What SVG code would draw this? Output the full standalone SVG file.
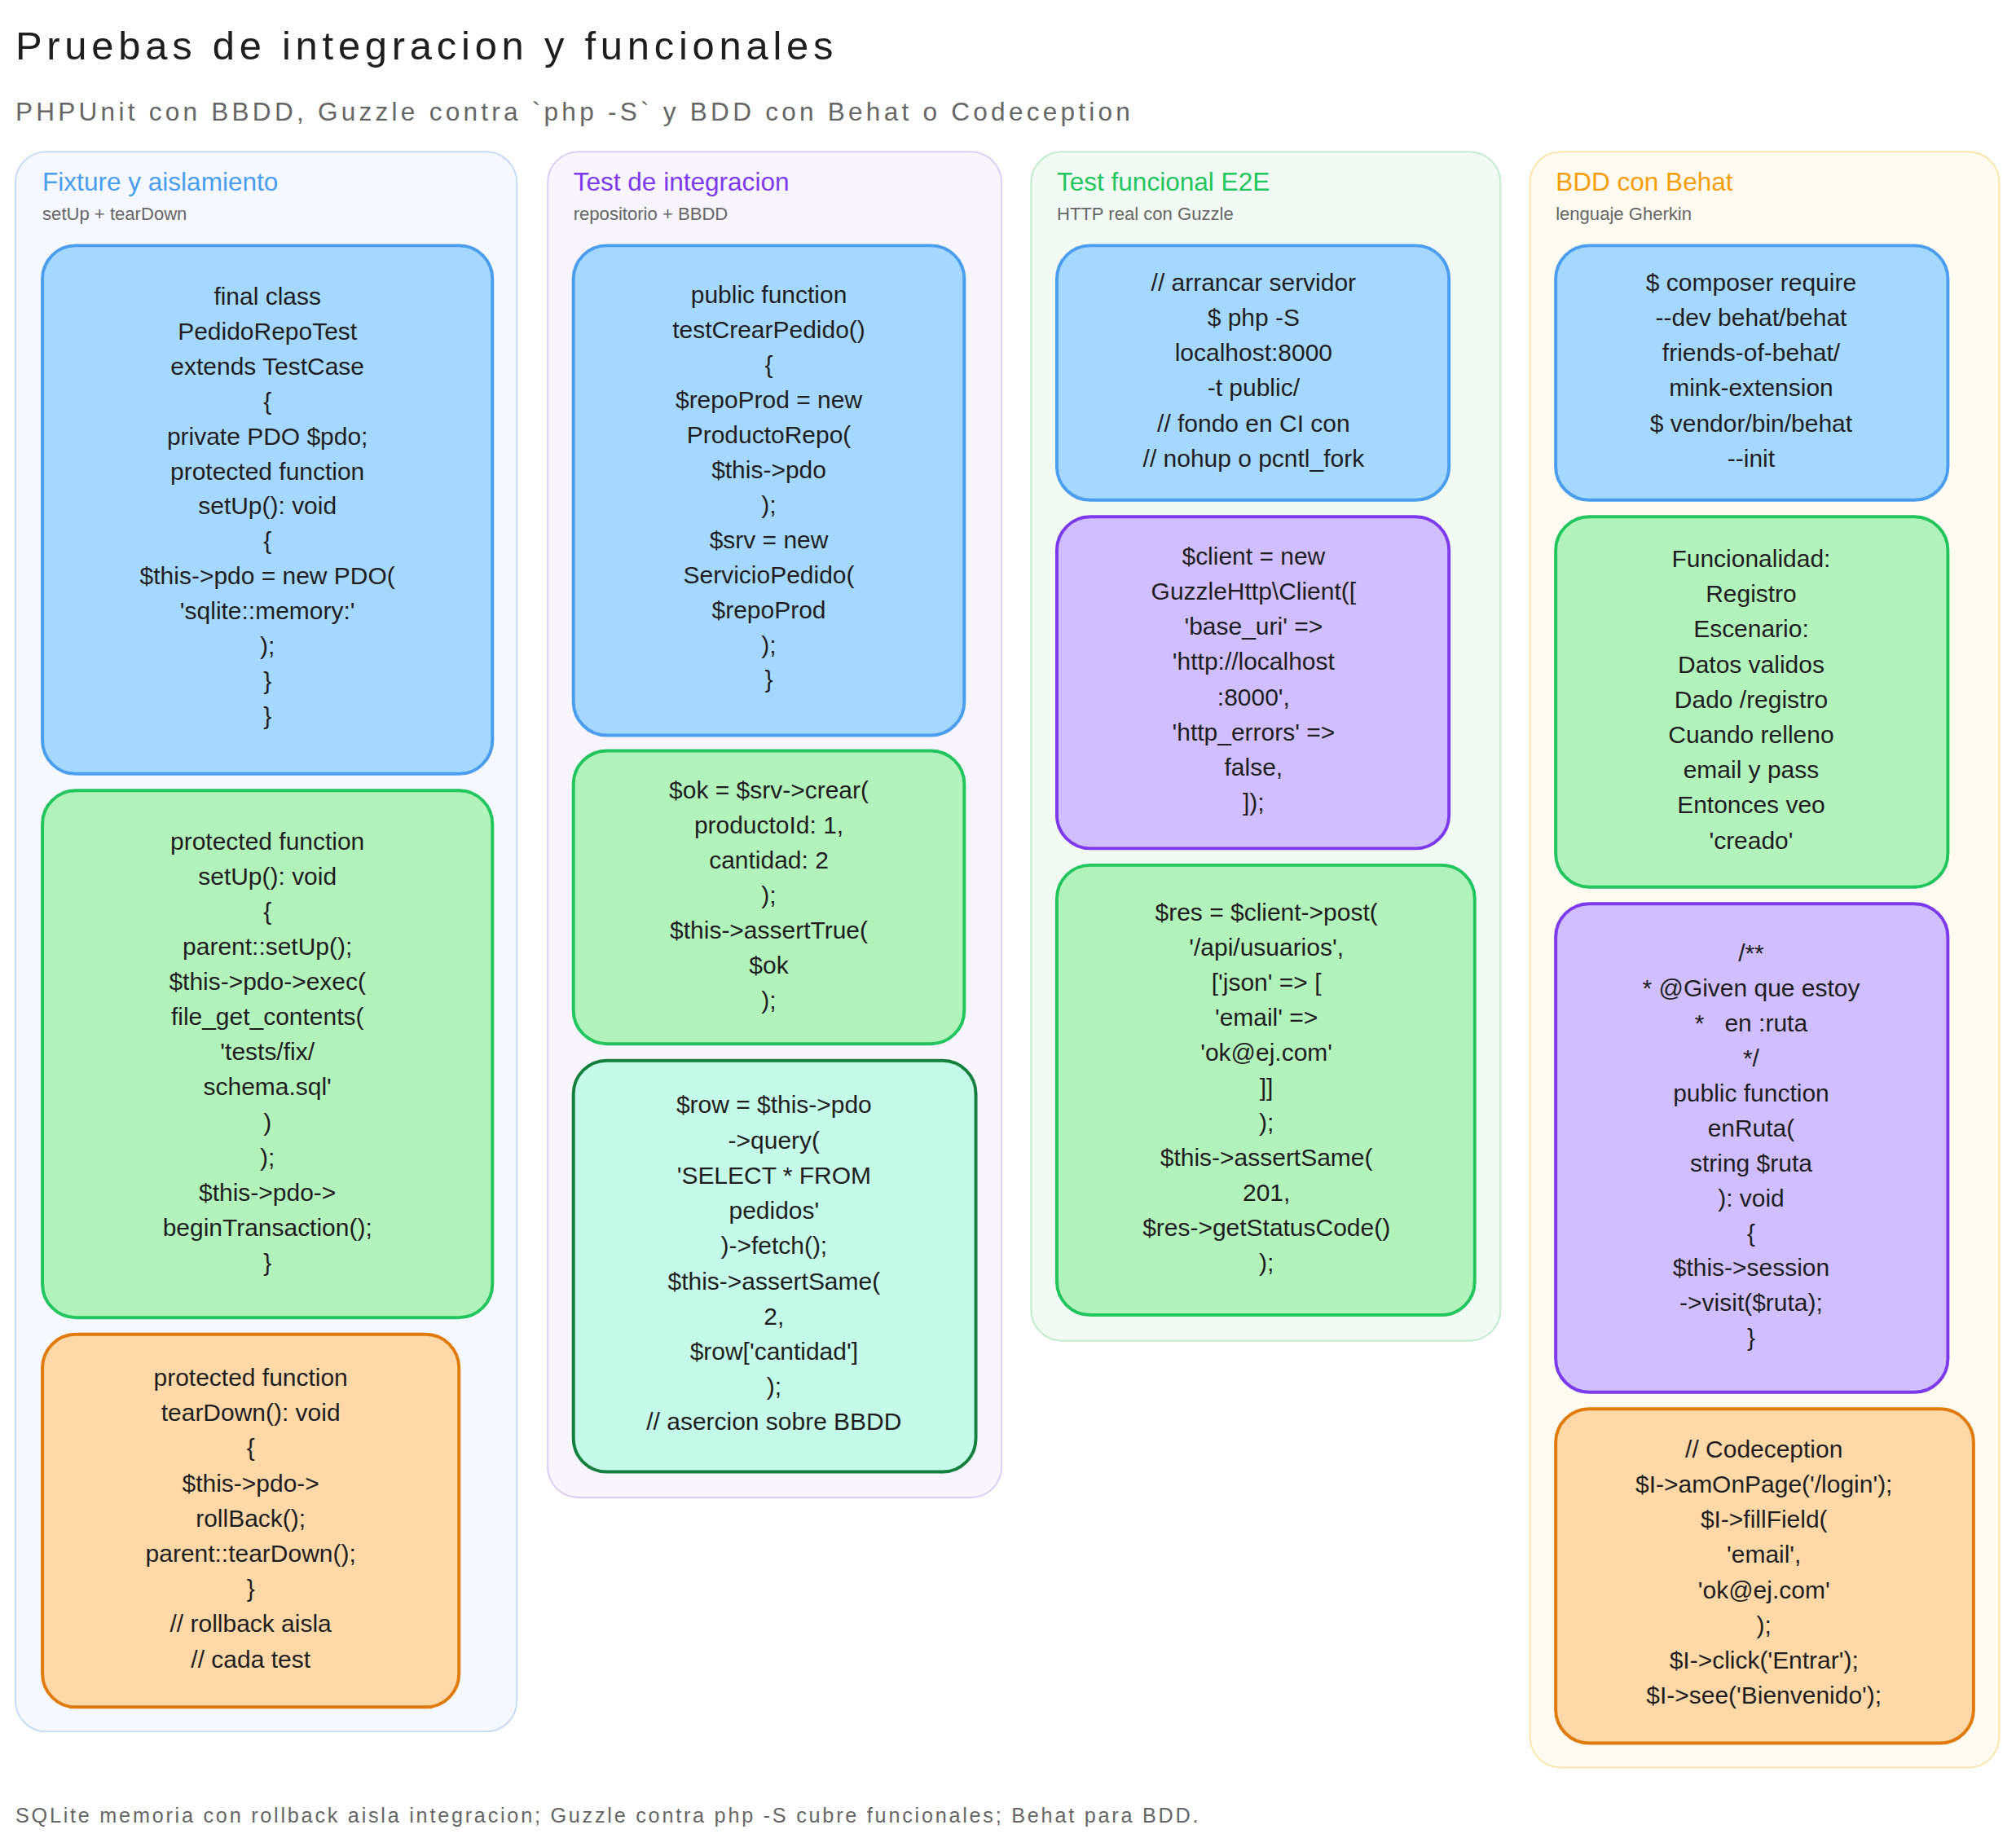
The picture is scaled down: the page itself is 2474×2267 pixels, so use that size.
<svg xmlns="http://www.w3.org/2000/svg" width="2474" height="2267" viewBox="0 0 2474 2267">
<style>
text{font-family:"Liberation Sans","DejaVu Sans",sans-serif;}
.t{font-size:19px;fill:#1e1e1e;text-anchor:middle;white-space:pre;}
.ct{font-size:20px;}
.cs{font-size:14px;fill:#666;}
.b{stroke-width:2.5;}
.blue{fill:#a5d8ff;stroke:#4a9eed;}
.green{fill:#b2f2bb;stroke:#22c55e;}
.orange{fill:#ffd8a8;stroke:#e07b0b;}
.purple{fill:#d0bfff;stroke:#7c3aed;}
.teal{fill:#c3fae8;stroke:#15803d;}
</style>
<rect width="2474" height="2267" fill="#ffffff"/>
<g transform="scale(1.5778)">
<g id="header">
<text x="12" y="46" textLength="636" lengthAdjust="spacing" style="font-size:31px;fill:#1e1e1e">Pruebas de integracion y funcionales</text>
<text x="12" y="94" textLength="867" lengthAdjust="spacing" style="font-size:20px;fill:#666">PHPUnit con BBDD, Guzzle contra `php -S` y BDD con Behat o Codeception</text>
</g>
<g id="col1">
<rect x="12" y="118" width="390" height="1229" rx="24" fill="#f5f8ff" stroke="#c9dcf5" stroke-width="1.3"/>
<text x="33" y="148" class="ct" fill="#4a9eed">Fixture y aislamiento</text>
<text x="33" y="171" class="cs">setUp + tearDown</text>
</g>
<g id="col2">
<rect x="426" y="118" width="353" height="1047" rx="24" fill="#f8f5ff" stroke="#ddd0f7" stroke-width="1.3"/>
<text x="446" y="148" class="ct" fill="#7c3aed">Test de integracion</text>
<text x="446" y="171" class="cs">repositorio + BBDD</text>
</g>
<g id="col3">
<rect x="802" y="118" width="365" height="925" rx="24" fill="#f1fbf3" stroke="#c5ebd0" stroke-width="1.3"/>
<text x="822" y="148" class="ct" fill="#22c55e">Test funcional E2E</text>
<text x="822" y="171" class="cs">HTTP real con Guzzle</text>
</g>
<g id="col4">
<rect x="1190" y="118" width="365" height="1257" rx="24" fill="#fffbf0" stroke="#fbe6b0" stroke-width="1.3"/>
<text x="1210" y="148" class="ct" fill="#f59e0b">BDD con Behat</text>
<text x="1210" y="171" class="cs">lenguaje Gherkin</text>
</g>

<g id="c1b1"><rect x="33" y="191" width="350" height="411" rx="26" class="b blue"/>
<text class="t" y="237"><tspan x="208">final class</tspan><tspan x="208" dy="27.2">PedidoRepoTest</tspan><tspan x="208" dy="27.2">extends TestCase</tspan><tspan x="208" dy="27.2">{</tspan><tspan x="208" dy="27.2">private PDO $pdo;</tspan><tspan x="208" dy="27.2">protected function</tspan><tspan x="208" dy="27.2">setUp(): void</tspan><tspan x="208" dy="27.2">{</tspan><tspan x="208" dy="27.2">$this-&gt;pdo = new PDO(</tspan><tspan x="208" dy="27.2">'sqlite::memory:'</tspan><tspan x="208" dy="27.2">);</tspan><tspan x="208" dy="27.2">}</tspan><tspan x="208" dy="27.2">}</tspan></text></g>
<g id="c1b2"><rect x="33" y="615" width="350" height="410" rx="26" class="b green"/>
<text class="t" y="661"><tspan x="208">protected function</tspan><tspan x="208" dy="27.3">setUp(): void</tspan><tspan x="208" dy="27.3">{</tspan><tspan x="208" dy="27.3">parent::setUp();</tspan><tspan x="208" dy="27.3">$this-&gt;pdo-&gt;exec(</tspan><tspan x="208" dy="27.3">file_get_contents(</tspan><tspan x="208" dy="27.3">'tests/fix/</tspan><tspan x="208" dy="27.3">schema.sql'</tspan><tspan x="208" dy="27.3">)</tspan><tspan x="208" dy="27.3">);</tspan><tspan x="208" dy="27.3">$this-&gt;pdo-&gt;</tspan><tspan x="208" dy="27.3">beginTransaction();</tspan><tspan x="208" dy="27.3">}</tspan></text></g>
<g id="c1b3"><rect x="33" y="1038" width="324" height="290" rx="26" class="b orange"/>
<text class="t" y="1078"><tspan x="195">protected function</tspan><tspan x="195" dy="27.4">tearDown(): void</tspan><tspan x="195" dy="27.4">{</tspan><tspan x="195" dy="27.4">$this-&gt;pdo-&gt;</tspan><tspan x="195" dy="27.4">rollBack();</tspan><tspan x="195" dy="27.4">parent::tearDown();</tspan><tspan x="195" dy="27.4">}</tspan><tspan x="195" dy="27.4">// rollback aisla</tspan><tspan x="195" dy="27.4">// cada test</tspan></text></g>

<g id="c2b1"><rect x="446" y="191" width="304" height="381" rx="26" class="b blue"/>
<text class="t" y="236"><tspan x="598">public function</tspan><tspan x="598" dy="27.2">testCrearPedido()</tspan><tspan x="598" dy="27.2">{</tspan><tspan x="598" dy="27.2">$repoProd = new</tspan><tspan x="598" dy="27.2">ProductoRepo(</tspan><tspan x="598" dy="27.2">$this-&gt;pdo</tspan><tspan x="598" dy="27.2">);</tspan><tspan x="598" dy="27.2">$srv = new</tspan><tspan x="598" dy="27.2">ServicioPedido(</tspan><tspan x="598" dy="27.2">$repoProd</tspan><tspan x="598" dy="27.2">);</tspan><tspan x="598" dy="27.2">}</tspan></text></g>
<g id="c2b2"><rect x="446" y="584" width="304" height="228" rx="26" class="b green"/>
<text class="t" y="621"><tspan x="598">$ok = $srv-&gt;crear(</tspan><tspan x="598" dy="27.3">productoId: 1,</tspan><tspan x="598" dy="27.3">cantidad: 2</tspan><tspan x="598" dy="27.3">);</tspan><tspan x="598" dy="27.3">$this-&gt;assertTrue(</tspan><tspan x="598" dy="27.3">$ok</tspan><tspan x="598" dy="27.3">);</tspan></text></g>
<g id="c2b3"><rect x="446" y="825" width="313" height="320" rx="26" class="b teal"/>
<text class="t" y="866"><tspan x="602">$row = $this-&gt;pdo</tspan><tspan x="602" dy="27.4">-&gt;query(</tspan><tspan x="602" dy="27.4">'SELECT * FROM</tspan><tspan x="602" dy="27.4">pedidos'</tspan><tspan x="602" dy="27.4">)-&gt;fetch();</tspan><tspan x="602" dy="27.4">$this-&gt;assertSame(</tspan><tspan x="602" dy="27.4">2,</tspan><tspan x="602" dy="27.4">$row['cantidad']</tspan><tspan x="602" dy="27.4">);</tspan><tspan x="602" dy="27.4">// asercion sobre BBDD</tspan></text></g>

<g id="c3b1"><rect x="822" y="191" width="305" height="198" rx="26" class="b blue"/>
<text class="t" y="226"><tspan x="975">// arrancar servidor</tspan><tspan x="975" dy="27.4">$ php -S</tspan><tspan x="975" dy="27.4">localhost:8000</tspan><tspan x="975" dy="27.4">-t public/</tspan><tspan x="975" dy="27.4">// fondo en CI con</tspan><tspan x="975" dy="27.4">// nohup o pcntl_fork</tspan></text></g>
<g id="c3b2"><rect x="822" y="402" width="305" height="258" rx="26" class="b purple"/>
<text class="t" y="439"><tspan x="975">$client = new</tspan><tspan x="975" dy="27.4">GuzzleHttp\Client([</tspan><tspan x="975" dy="27.4">'base_uri' =&gt;</tspan><tspan x="975" dy="27.4">'http://localhost</tspan><tspan x="975" dy="27.4">:8000',</tspan><tspan x="975" dy="27.4">'http_errors' =&gt;</tspan><tspan x="975" dy="27.4">false,</tspan><tspan x="975" dy="27.4">]);</tspan></text></g>
<g id="c3b3"><rect x="822" y="673" width="325" height="350" rx="26" class="b green"/>
<text class="t" y="716"><tspan x="985">$res = $client-&gt;post(</tspan><tspan x="985" dy="27.3">'/api/usuarios',</tspan><tspan x="985" dy="27.3">['json' =&gt; [</tspan><tspan x="985" dy="27.3">'email' =&gt;</tspan><tspan x="985" dy="27.3">'ok@ej.com'</tspan><tspan x="985" dy="27.3">]]</tspan><tspan x="985" dy="27.3">);</tspan><tspan x="985" dy="27.3">$this-&gt;assertSame(</tspan><tspan x="985" dy="27.3">201,</tspan><tspan x="985" dy="27.3">$res-&gt;getStatusCode()</tspan><tspan x="985" dy="27.3">);</tspan></text></g>

<g id="c4b1"><rect x="1210" y="191" width="305" height="198" rx="26" class="b blue"/>
<text class="t" y="226"><tspan x="1362">$ composer require</tspan><tspan x="1362" dy="27.4">--dev behat/behat</tspan><tspan x="1362" dy="27.4">friends-of-behat/</tspan><tspan x="1362" dy="27.4">mink-extension</tspan><tspan x="1362" dy="27.4">$ vendor/bin/behat</tspan><tspan x="1362" dy="27.4">--init</tspan></text></g>
<g id="c4b2"><rect x="1210" y="402" width="305" height="288" rx="26" class="b green"/>
<text class="t" y="441"><tspan x="1362">Funcionalidad:</tspan><tspan x="1362" dy="27.4">Registro</tspan><tspan x="1362" dy="27.4">Escenario:</tspan><tspan x="1362" dy="27.4">Datos validos</tspan><tspan x="1362" dy="27.4">Dado /registro</tspan><tspan x="1362" dy="27.4">Cuando relleno</tspan><tspan x="1362" dy="27.4">email y pass</tspan><tspan x="1362" dy="27.4">Entonces veo</tspan><tspan x="1362" dy="27.4">'creado'</tspan></text></g>
<g id="c4b3"><rect x="1210" y="703" width="305" height="380" rx="26" class="b purple"/>
<text class="t" y="748"><tspan x="1362">/**</tspan><tspan x="1362" dy="27.2">* @Given que estoy</tspan><tspan x="1362" dy="27.2">*   en :ruta</tspan><tspan x="1362" dy="27.2">*/</tspan><tspan x="1362" dy="27.2">public function</tspan><tspan x="1362" dy="27.2">enRuta(</tspan><tspan x="1362" dy="27.2">string $ruta</tspan><tspan x="1362" dy="27.2">): void</tspan><tspan x="1362" dy="27.2">{</tspan><tspan x="1362" dy="27.2">$this-&gt;session</tspan><tspan x="1362" dy="27.2">-&gt;visit($ruta);</tspan><tspan x="1362" dy="27.2">}</tspan></text></g>
<g id="c4b4"><rect x="1210" y="1096" width="325" height="260" rx="26" class="b orange"/>
<text class="t" y="1134"><tspan x="1372">// Codeception</tspan><tspan x="1372" dy="27.3">$I-&gt;amOnPage('/login');</tspan><tspan x="1372" dy="27.3">$I-&gt;fillField(</tspan><tspan x="1372" dy="27.3">'email',</tspan><tspan x="1372" dy="27.3">'ok@ej.com'</tspan><tspan x="1372" dy="27.3">);</tspan><tspan x="1372" dy="27.3">$I-&gt;click('Entrar');</tspan><tspan x="1372" dy="27.3">$I-&gt;see('Bienvenido');</tspan></text></g>

<g id="connectors"></g>
<g id="footer"><text x="12" y="1418" textLength="920" lengthAdjust="spacing" style="font-size:16px;fill:#666">SQLite memoria con rollback aisla integracion; Guzzle contra php -S cubre funcionales; Behat para BDD.</text></g>
</g>
</svg>
